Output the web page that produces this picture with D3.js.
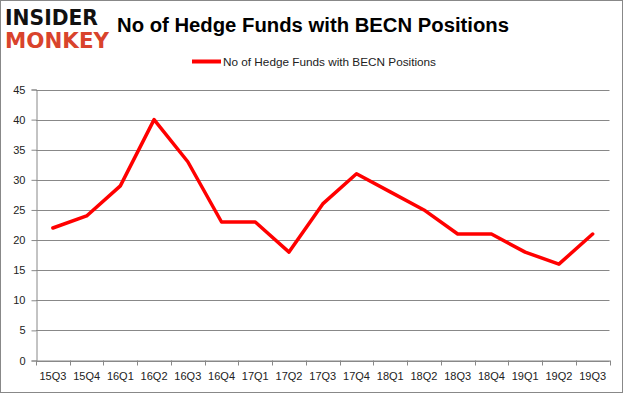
<!DOCTYPE html>
<html><head><meta charset="utf-8">
<script src="https://cdn.jsdelivr.net/npm/d3@7"></script>
<style>body{margin:0;background:#fff}svg{display:block}</style>
</head><body>
<script>
const categories = ["15Q3","15Q4","16Q1","16Q2","16Q3","16Q4","17Q1","17Q2","17Q3","17Q4","18Q1","18Q2","18Q3","18Q4","19Q1","19Q2","19Q3"];
const values = [22,24,29,40,33,23,23,18,26,31,28,25,21,21,18,16,21];
const yTicks = [0,5,10,15,20,25,30,35,40,45];
const seriesName = "No of Hedge Funds with BECN Positions";
const title = "No of Hedge Funds with BECN Positions";

(function(){
const W = 625, H = 395;
const svg = d3.select("body").append("svg").attr("width", W).attr("height", H);
svg.append("rect").attr("x",0.5).attr("y",0.5).attr("width",622).attr("height",392)
  .attr("fill","#fff").attr("stroke","#888");

const pLeft = 36, pRight = 609.5, pTop = 89.5, pBottom = 360.5;
const x = d3.scaleBand().domain(categories).range([pLeft, pRight]);
const y = d3.scaleLinear().domain([0,45]).range([pBottom, pTop]);

svg.append("g").selectAll("line").data(yTicks).join("line")
  .attr("x1", pLeft).attr("x2", pRight)
  .attr("y1", d => Math.round(y(d))+0.5).attr("y2", d => Math.round(y(d))+0.5)
  .attr("stroke", "#888").attr("stroke-width", 1);

const yAxis = svg.append("g").attr("transform", `translate(${pLeft+0.5},0)`)
  .call(d3.axisLeft(y).tickValues(yTicks).tickSize(5).tickPadding(6));
yAxis.select(".domain").attr("stroke","#888");
yAxis.selectAll(".tick line").attr("stroke","#888");
yAxis.selectAll("text").attr("font-family","'Liberation Sans', Arial, sans-serif").attr("font-size",11).attr("fill","#222");

const xAxis = svg.append("g").attr("transform", `translate(0,${pBottom})`)
  .call(d3.axisBottom(x).tickSizeOuter(0).tickSize(0).tickPadding(12));
xAxis.select(".domain").attr("stroke","#888");
xAxis.selectAll("text").attr("font-family","'Liberation Sans', Arial, sans-serif").attr("font-size",11).attr("fill","#222");
const bounds = categories.map(c => x(c)).concat([pRight]);
svg.append("g").selectAll("line").data(bounds).join("line")
  .attr("x1", d => Math.round(d)+0.5).attr("x2", d => Math.round(d)+0.5)
  .attr("y1", pBottom).attr("y2", pBottom+5).attr("stroke","#888");

const line = d3.line().x((d,i) => x(categories[i]) + x.bandwidth()/2).y(d => y(d));
svg.append("path").datum(values).attr("d", line).attr("fill","none")
  .attr("stroke","#ff0000").attr("stroke-width",3.5).attr("stroke-linejoin","round").attr("stroke-linecap","round");

svg.append("text").attr("x", 313).attr("y", 32).attr("text-anchor","middle")
  .attr("font-family","'Liberation Sans', Arial, sans-serif").attr("font-weight","bold").attr("font-size",20)
  .attr("textLength",392).attr("lengthAdjust","spacingAndGlyphs")
  .attr("fill","#000").text(title);

svg.append("line").attr("x1",192).attr("x2",221).attr("y1",61.5).attr("y2",61.5)
  .attr("stroke","#ff0000").attr("stroke-width",4);
svg.append("text").attr("x",223).attr("y",65.5)
  .attr("font-family","'Liberation Sans', Arial, sans-serif").attr("font-size",11.5).attr("fill","#222")
  .attr("textLength",213).attr("lengthAdjust","spacingAndGlyphs")
  .text(seriesName);

svg.append("text").attr("x",5).attr("y",25)
  .attr("font-family","'DejaVu Sans', sans-serif").attr("font-weight","bold").attr("font-size",21)
  .attr("textLength",93).attr("lengthAdjust","spacingAndGlyphs").attr("fill","#111").text("INSIDER");
svg.append("text").attr("x",5).attr("y",48)
  .attr("font-family","'DejaVu Sans', sans-serif").attr("font-weight","bold").attr("font-size",21)
  .attr("textLength",104).attr("lengthAdjust","spacingAndGlyphs").attr("fill","#d9432c").text("MONKEY");
})();
</script>
</body></html>
